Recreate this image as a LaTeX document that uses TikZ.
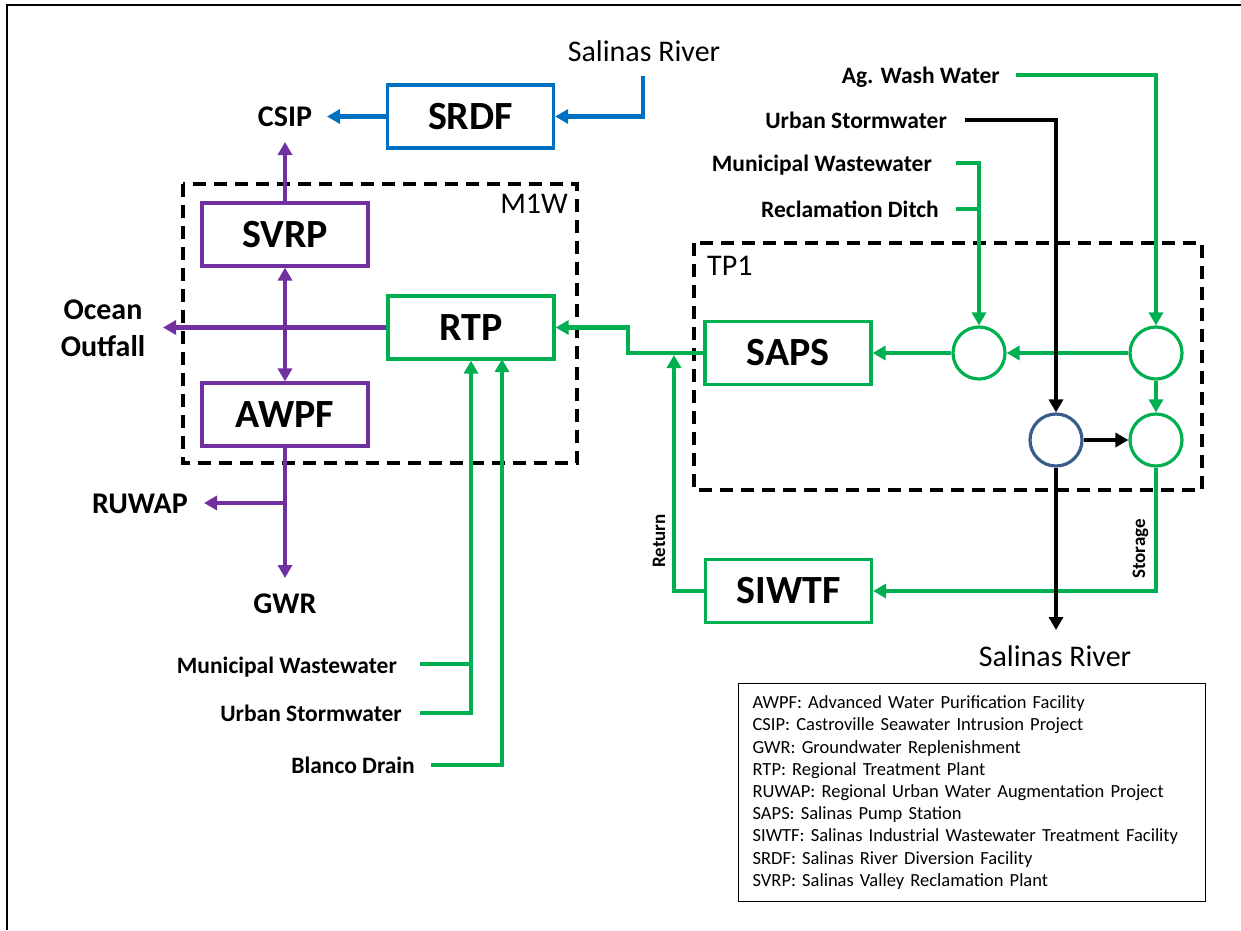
\documentclass[tikz,border=0pt]{standalone}
\usepackage{fontspec}
\setmainfont{Carlito}
\usetikzlibrary{arrows.meta}
\definecolor{cgreen}{HTML}{00B050}
\definecolor{cpurple}{HTML}{7030A0}
\definecolor{cblue}{HTML}{0070C0}
\definecolor{cnavy}{HTML}{385D8A}
\begin{document}
\begin{tikzpicture}[x=1pt,y=-1pt,
 box/.style={draw,line width=3.2pt,minimum width=166pt,minimum height=63pt,inner sep=0pt,font=\fontsize{40}{48}\selectfont\bfseries},
 grp/.style={draw,line width=3.2pt,dash pattern=on 13pt off 8pt},
 lbl/.style={font=\fontsize{23.5}{28}\selectfont\bfseries,inner sep=0pt},
 big/.style={font=\fontsize{30}{37}\selectfont\bfseries,inner sep=0pt},
 rv/.style={font=\fontsize{30}{36}\selectfont,inner sep=0pt},
 small/.style={font=\fontsize{19}{23}\selectfont\bfseries,inner sep=0pt},
 flow/.style={line width=4.3pt,-{Triangle[length=13pt,width=14pt]}},
 bi/.style={line width=4.3pt,{Triangle[length=13pt,width=14pt]}-{Triangle[length=13pt,width=14pt]}},
 pipe/.style={line width=4.3pt},
 junc/.style={circle,draw,line width=3.2pt,minimum size=52pt,inner sep=0pt},
]
\useasboundingbox (0,0) rectangle (1241,930);
\draw[line width=2pt] (7,930) -- (7,5) -- (1241,5);

% groups
\draw[grp] (183,184) rectangle (577,463);
\node[rv,anchor=base east] (m1w) at (568,213) {M1W};
\draw[grp] (694,243) rectangle (1202,490);
\node[rv,anchor=base west] (tp1) at (707,275) {TP1};

% boxes
\node[box,draw=cblue] (srdf) at (470.5,116.5) {SRDF};
\node[box,draw=cpurple] (svrp) at (285,234.5) {SVRP};
\node[box,draw=cgreen] (rtp) at (471,327.5) {RTP};
\node[box,draw=cpurple] (awpf) at (285,414.5) {AWPF};
\node[box,draw=cgreen] (saps) at (788,353) {SAPS};
\node[box,draw=cgreen] (siwtf) at (788.5,591) {SIWTF};

% junctions
\node[junc,draw=cgreen] (j1) at (979,353) {};
\node[junc,draw=cgreen] (j2) at (1156,353) {};
\node[junc,draw=cnavy] (j3) at (1056,440) {};
\node[junc,draw=cgreen] (j4) at (1156,440) {};

% labels
\node[rv,anchor=base] (sr1) at (644,61) {Salinas River};
\node[rv,anchor=base] (sr2) at (1055,666) {Salinas River};
\node[big,anchor=base] (csip) at (285,126.5) {CSIP};
\node[big,align=center,font=\fontsize{30}{37}\selectfont\bfseries] (ocean) at (103,328) {Ocean\\Outfall};
\node[big,anchor=base east] (ruwap) at (188,513) {RUWAP};
\node[big,anchor=base] (gwr) at (285,613) {GWR};
\node[lbl,anchor=base east] (mw1) at (397,673) {Municipal Wastewater};
\node[lbl,anchor=base east] (us1) at (402,721) {Urban Stormwater};
\node[lbl,anchor=base east] (bd) at (415,773) {Blanco Drain};
\node[lbl,anchor=base east] (aww) at (1000,83) {Ag. Wash Water};
\node[lbl,anchor=base east] (us2) at (947,128) {Urban Stormwater};
\node[lbl,anchor=base east] (mw2) at (932,171) {Municipal Wastewater};
\node[lbl,anchor=base east] (rd) at (939,217) {Reclamation Ditch};
\node[small,anchor=base,rotate=90] (ret) at (665,541) {Return};
\node[small,anchor=base,rotate=90] (sto) at (1145,549) {Storage};

% coordinates
\coordinate (srin) at (643,76);
\coordinate (csiptip) at (327,116.5);
\coordinate (csipbot) at (285,142);
\coordinate (oceantip) at (163,327.5);
\coordinate (gwrtip) at (285,578);
\coordinate (ruj) at (285,503);
\coordinate (rutip) at (204,503);
\coordinate (mw1s) at (420,664);
\coordinate (us1s) at (420,713);
\coordinate (bds) at (431,765);
\coordinate (rtpb2) at (502,359);
\coordinate (awws) at (1016,75);
\coordinate (us2s) at (965,120);
\coordinate (mw2s) at (956,163);
\coordinate (rds) at (956,209);
\coordinate (srtip) at (1056,630);
\coordinate (bend) at (628,353);
\coordinate (rettip) at (674,355);

% blue
\draw[flow,cblue] (srin) |- (srdf.east);
\draw[flow,cblue] (srdf.west) -- (csiptip);

% purple
\draw[flow,cpurple] (svrp.north) -- (csipbot);
\draw[bi,cpurple] (svrp.south) -- (awpf.north);
\draw[flow,cpurple] (rtp.west) -- (oceantip);
\draw[flow,cpurple] (awpf.south) -- (gwrtip);
\draw[flow,cpurple] (ruj) -- (rutip);

% green
\draw[pipe,cgreen] (mw1s) -- (mw1s -| rtp.south);
\draw[flow,cgreen] (us1s) -| (rtp.south);
\draw[flow,cgreen] (bds) -| (rtpb2);
\draw[flow,cgreen] (saps.west) -- (bend) |- (rtp.east);
\draw[flow,cgreen] (siwtf.west) -| (rettip);
\draw[flow,cgreen] (awws) -| (j2.north);
\draw[pipe,cgreen] (rds) -- (rds -| j1.north);
\draw[flow,cgreen] (mw2s) -| (j1.north);
\draw[flow,cgreen] (j2.west) -- (j1.east);
\draw[flow,cgreen] (j1.west) -- (saps.east);
\draw[flow,cgreen] (j2.south) -- (j4.north);
\draw[flow,cgreen] (j4.south) |- (siwtf.east);

% black
\draw[flow,black] (us2s) -| (j3.north);
\draw[flow,black] (j3.east) -- (j4.west);
\draw[flow,black] (j3.south) -- (srtip);

% legend
\node[draw,line width=1.2pt,anchor=north west,minimum width=467pt,minimum height=218pt,text width=439pt,inner xsep=14pt,inner ysep=0pt,align=left,font=\fontsize{18.5}{22.2}\selectfont] (legend) at (738,683) {AWPF: Advanced Water Purification Facility\\
CSIP: Castroville Seawater Intrusion Project\\
GWR: Groundwater Replenishment\\
RTP: Regional Treatment Plant\\
RUWAP: Regional Urban Water Augmentation Project\\
SAPS: Salinas Pump Station\\
SIWTF: Salinas Industrial Wastewater Treatment Facility\\
SRDF: Salinas River Diversion Facility\\
SVRP: Salinas Valley Reclamation Plant};
\end{tikzpicture}
\end{document}
